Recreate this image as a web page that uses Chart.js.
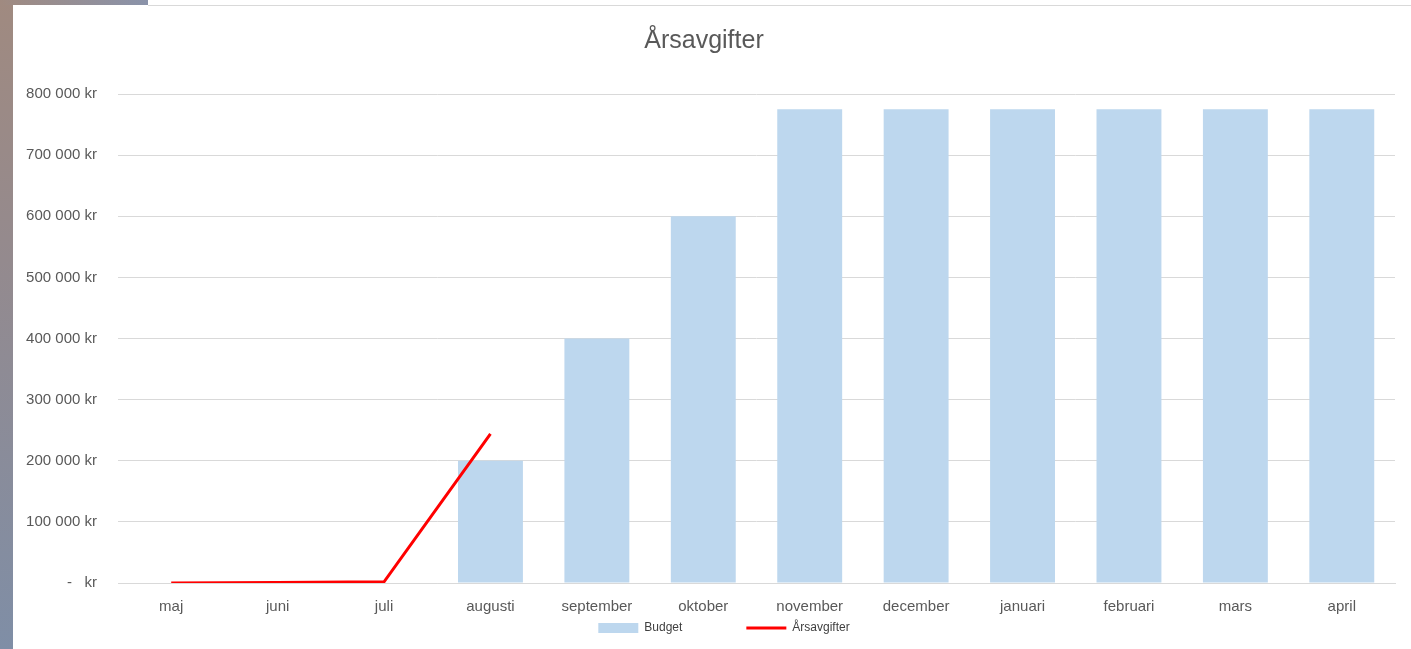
<!DOCTYPE html>
<html>
<head>
<meta charset="utf-8">
<script src="https://cdn.jsdelivr.net/npm/chart.js@4"></script>
<style>
  html, body { margin: 0; padding: 0; }
  body {
    width: 1411px; height: 649px; overflow: hidden; position: relative;
    background: #fff;
  }
  #strip {
    position: absolute; left: 0; top: 0; width: 13px; height: 649px;
    background: linear-gradient(to bottom, #a08a80 0%, #948a8e 40%, #7f8ea6 100%);
  }
  #tab {
    position: absolute; left: 0; top: 0; width: 148px; height: 5px;
    background: linear-gradient(to right, #a08a80, #8a93aa);
  }
  #topline {
    position: absolute; left: 148px; top: 5px; width: 1263px; height: 1px;
    background: #d9d9d9;
  }
  #wrap {
    position: absolute; left: 13px; top: 6px; width: 1398px; height: 643px;
  }
</style>
</head>
<body>
<div id="strip"></div>
<div id="tab"></div>
<div id="topline"></div>
<div id="wrap"><canvas id="chart"></canvas></div>
<script>
// Kategorier och värden
const months = ['maj', 'juni', 'juli', 'augusti', 'september', 'oktober',
  'november', 'december', 'januari', 'februari', 'mars', 'april'];
const budget = [null, null, null, 200000, 400000, 600000,
  775000, 775000, 775000, 775000, 775000, 775000];
const arsavgifter = [0, 1000, 2000, 244000];
const yTicks = [0, 100000, 200000, 300000, 400000, 500000, 600000, 700000, 800000];

const textColor = '#595959';
const fontFamily = "'Liberation Sans', Arial, sans-serif";

// Formatera som i Excel: "800 000 kr", "-   kr"
const formatKr = (v) => {
  if (v === 0) return '-   kr';
  return String(v).replace(/\B(?=(\d{3})+(?!\d))/g, ' ') + ' kr';
};

// Flytta förklaringen lite åt höger
const legendShift = {
  id: 'legendShift',
  afterLayout: (chart) => {
    chart.legend.left += 20;
    chart.legend.right += 20;
  }
};

const ctx = document.getElementById('chart').getContext('2d');
new Chart(ctx, {
  data: {
    labels: months,
    datasets: [
      {
        type: 'bar',
        label: 'Budget',
        data: budget,
        backgroundColor: '#bdd7ee',
        barPercentage: 0.61,
        categoryPercentage: 1,
        pointStyle: 'rect',
        order: 2
      },
      {
        type: 'line',
        label: 'Årsavgifter',
        data: arsavgifter,
        borderColor: '#ff0000',
        backgroundColor: '#ff0000',
        borderWidth: 3,
        pointRadius: 0,
        tension: 0,
        pointStyle: 'line',
        order: 1
      }
    ]
  },
  plugins: [legendShift],
  options: {
    responsive: true,
    maintainAspectRatio: false,
    animation: false,
    layout: { padding: { top: 20, right: 16, bottom: 5, left: 0 } },
    plugins: {
      title: {
        display: true,
        text: 'Årsavgifter',
        color: textColor,
        font: { family: fontFamily, size: 25, weight: 'normal' },
        padding: { top: 0, bottom: 38 }
      },
      legend: {
        position: 'bottom',
        labels: {
          color: '#404040',
          font: { family: fontFamily, size: 12 },
          usePointStyle: true,
          pointStyleWidth: 40,
          boxHeight: 10,
          padding: 4,
          // extra mellanrum efter första posten
          generateLabels: (chart) => {
            const items = Chart.defaults.plugins.legend.labels.generateLabels(chart);
            items.sort((a, b) => a.datasetIndex - b.datasetIndex);
            items[0].text = items[0].text + '\u2003'.repeat(5);
            return items;
          }
        }
      },
      tooltip: { enabled: false }
    },
    scales: {
      x: {
        grid: { display: false, drawTicks: false },
        border: { color: '#d9d9d9', width: 1 },
        afterFit: (axis) => { axis.height -= 13; },
        ticks: {
          color: textColor,
          font: { family: fontFamily, size: 15 },
          padding: 15
        }
      },
      y: {
        min: 0,
        max: 800000,
        afterBuildTicks: (axis) => { axis.ticks = yTicks.map(v => ({ value: v })); },
        afterFit: (axis) => { axis.width = 105; },
        grid: { color: '#d9d9d9', drawTicks: false },
        border: { display: false },
        ticks: {
          color: textColor,
          font: { family: fontFamily, size: 15 },
          padding: 21,
          callback: (v) => formatKr(v)
        }
      }
    }
  }
});
</script>
</body>
</html>
